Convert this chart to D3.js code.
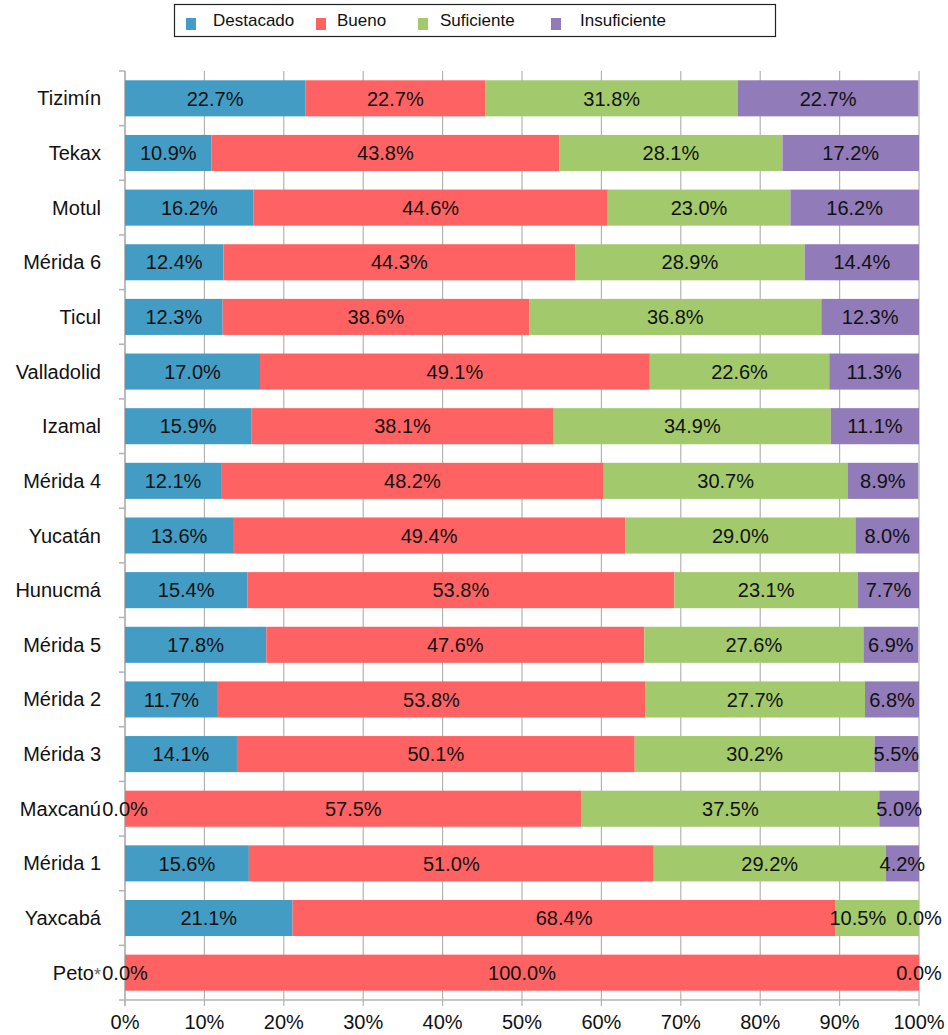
<!DOCTYPE html>
<html>
<head>
<meta charset="utf-8">
<script src="https://cdn.jsdelivr.net/npm/d3@7"></script>
<style>
  body { margin: 0; background: #fff; }
  text { font-family: "Liberation Sans", Arial, Helvetica, sans-serif; }
</style>
</head>
<body>
<div id="chart"></div>
<script>
"use strict";

// categories, top to bottom
var regions = ["Tizimín", "Tekax", "Motul", "Mérida 6", "Ticul", "Valladolid", "Izamal",
  "Mérida 4", "Yucatán", "Hunucmá", "Mérida 5", "Mérida 2", "Mérida 3", "Maxcanú",
  "Mérida 1", "Yaxcabá", "Peto"];

var levels = ["Destacado", "Bueno", "Suficiente", "Insuficiente"];
var colors = ["#439cc4", "#ff6262", "#a2c96b", "#917bb8"];

// percentages per level, same order as regions
var destacado    = [22.7, 10.9, 16.2, 12.4, 12.3, 17.0, 15.9, 12.1, 13.6, 15.4, 17.8, 11.7, 14.1, 0.0, 15.6, 21.1, 0.0];
var bueno        = [22.7, 43.8, 44.6, 44.3, 38.6, 49.1, 38.1, 48.2, 49.4, 53.8, 47.6, 53.8, 50.1, 57.5, 51.0, 68.4, 100.0];
var suficiente   = [31.8, 28.1, 23.0, 28.9, 36.8, 22.6, 34.9, 30.7, 29.0, 23.1, 27.6, 27.7, 30.2, 37.5, 29.2, 10.5, 0.0];
var insuficiente = [22.7, 17.2, 16.2, 14.4, 12.3, 11.3, 11.1, 8.9, 8.0, 7.7, 6.9, 6.8, 5.5, 5.0, 4.2, 0.0, 0.0];

var xTicks = [0, 10, 20, 30, 40, 50, 60, 70, 80, 90, 100];

var width = 948, height = 1035;
var margin = {left: 125, right: 29, top: 71, bottom: 35};

var rows = regions.map(function(r, i) {
  return {region: r, Destacado: destacado[i], Bueno: bueno[i], Suficiente: suficiente[i], Insuficiente: insuficiente[i]};
});

var svg = d3.select("#chart").append("svg")
  .attr("width", width)
  .attr("height", height);

var x = d3.scaleLinear().domain([0, 100]).range([margin.left, width - margin.right]);
var y = d3.scaleBand().domain(regions)
  .range([margin.top, height - margin.bottom])
  .paddingInner(0.34).paddingOuter(0.17);

var plotBottom = height - margin.bottom;
var grid = "#b3b3b3";

// vertical gridlines + bottom ticks
svg.append("g").selectAll("line").data(xTicks).join("line")
  .attr("x1", function(d) { return x(d); }).attr("x2", function(d) { return x(d); })
  .attr("y1", margin.top).attr("y2", plotBottom + 6)
  .attr("stroke", grid).attr("stroke-width", 1.2);

// bottom axis line
svg.append("line")
  .attr("x1", margin.left - 6).attr("x2", x(100))
  .attr("y1", plotBottom).attr("y2", plotBottom)
  .attr("stroke", grid).attr("stroke-width", 1.5);

// left axis line and band ticks
svg.append("line")
  .attr("x1", margin.left).attr("x2", margin.left)
  .attr("y1", margin.top).attr("y2", plotBottom + 6)
  .attr("stroke", grid).attr("stroke-width", 1.5);

var bandEdges = regions.map(function(r) { return y(r) - y.step() * y.paddingInner() / 2; });
svg.append("g").selectAll("line").data(bandEdges).join("line")
  .attr("x1", margin.left - 6).attr("x2", margin.left)
  .attr("y1", function(d) { return d; }).attr("y2", function(d) { return d; })
  .attr("stroke", grid).attr("stroke-width", 1.5);

// x tick labels
svg.append("g").selectAll("text").data(xTicks).join("text")
  .attr("x", function(d) { return x(d); })
  .attr("y", plotBottom + 29)
  .attr("text-anchor", "middle")
  .attr("font-size", 20)
  .attr("fill", "#111")
  .text(function(d) { return d + "%"; });

// stacked bars
var stack = d3.stack().keys(levels)(rows);

svg.append("g").selectAll("g").data(stack).join("g")
  .attr("fill", function(d, i) { return colors[i]; })
  .selectAll("rect").data(function(d) { return d; }).join("rect")
  .attr("x", function(d) { return x(d[0]); })
  .attr("width", function(d) { return x(d[1]) - x(d[0]); })
  .attr("y", function(d) { return y(d.data.region); })
  .attr("height", y.bandwidth());

// category labels
var cat = svg.append("g").selectAll("text").data(regions).join("text")
  .attr("x", margin.left - 24)
  .attr("y", function(d) { return y(d) + y.bandwidth() / 2; })
  .attr("dy", "0.35em")
  .attr("text-anchor", "end")
  .attr("font-size", 20)
  .attr("fill", "#111")
  .text(function(d) { return d; });
cat.filter(function(d) { return d === "Peto"; })
  .append("tspan").attr("font-size", 18).attr("fill", "#666").attr("dy", "0.05em").text("*");

// value labels, nudged left when they collide with the label to their right
var labelGroup = svg.append("g");
rows.forEach(function(row) {
  var items = stack.map(function(s) {
    var seg = s.find(function(d) { return d.data.region === row.region; });
    return {v: seg[1] - seg[0], cx: (x(seg[0]) + x(seg[1])) / 2};
  });
  var texts = items.map(function(it, i) {
    // two zero labels at the same spot print as one
    var next = items[i + 1];
    if (next && it.v === 0 && next.v === 0 && next.cx === it.cx) return null;
    return labelGroup.append("text")
      .attr("x", it.cx)
      .attr("y", y(row.region) + y.bandwidth() / 2)
      .attr("dy", "0.36em")
      .attr("text-anchor", "middle")
      .attr("font-size", 20)
      .attr("fill", "#111")
      .text(it.v.toFixed(1) + "%");
  });
  var w = texts.map(function(t) { return t ? t.node().getComputedTextLength() : 0; });
  for (var i = items.length - 2; i >= 0; i--) {
    if (!texts[i] || items[i].v === 0) continue;
    var rightLeft = items[i + 1].cx - w[i + 1] / 2;
    var myRight = items[i].cx + w[i] / 2;
    if (myRight > rightLeft - 10) {
      items[i].cx = rightLeft - 10 - w[i] / 2;
      texts[i].attr("x", items[i].cx);
    }
  }
});

// legend
var legend = svg.append("g");
legend.append("rect")
  .attr("x", 174.5).attr("y", 4.5).attr("width", 601).attr("height", 32)
  .attr("fill", "#fff").attr("stroke", "#222").attr("stroke-width", 1.2);
var legendX = [186, 316, 418, 551];
var legendTextX = [213, 337, 440, 580];
levels.forEach(function(l, i) {
  legend.append("rect")
    .attr("x", legendX[i]).attr("y", 18).attr("width", 10).attr("height", 12)
    .attr("fill", colors[i]);
  legend.append("text")
    .attr("x", legendTextX[i]).attr("y", 26)
    .attr("font-size", 17)
    .attr("fill", "#111")
    .text(l);
});
</script>
</body>
</html>
